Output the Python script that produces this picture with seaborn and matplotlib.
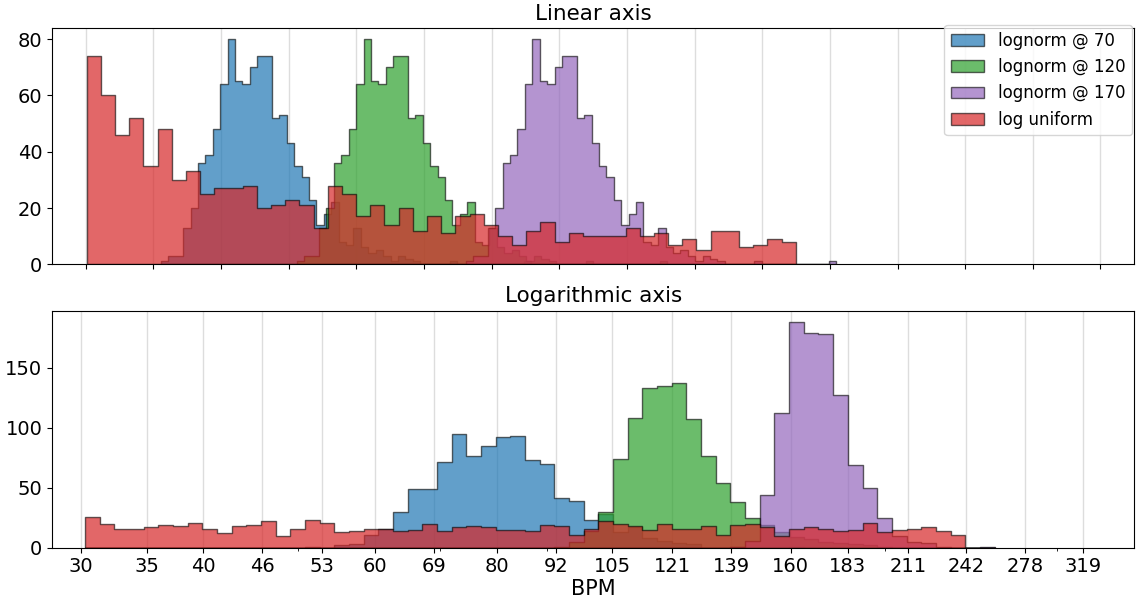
import numpy as np
import matplotlib
matplotlib.use("Agg")
import matplotlib.pyplot as plt
from matplotlib.colors import to_rgba
from matplotlib.ticker import NullFormatter
import seaborn as sns

series_labels = ["lognorm @ 70", "lognorm @ 120", "lognorm @ 170", "log uniform"]
series_colors = ["tab:blue", "tab:green", "tab:purple", "tab:red"]

# ---- linear-axis histograms (BPM) ----
# the three lognormal series share one histogram shape (50 bins of 2.19 BPM),
# each starting at its own minimum
lin_lognorm_counts = [1, 3, 3, 13, 20, 36, 39, 48, 64, 80,
                      65, 64, 70, 74, 74, 52, 53, 43, 35, 31,
                      23, 14, 18, 22, 8, 7, 13, 6, 4, 5,
                      3, 1, 3, 2, 1, 0, 0, 0, 0, 1,
                      0, 0, 0, 0, 0, 0, 0, 0, 0, 1]
lin_lognorm_mins = [52.2, 92.4, 142.3]
lin_lognorm_binwidth = 2.19

lin_uniform_counts = [74, 60, 46, 52, 35, 48, 30, 33, 25, 27,
                      27, 28, 20, 21, 23, 21, 13, 28, 25, 17,
                      21, 14, 20, 12, 17, 11, 17, 18, 14, 10,
                      7, 12, 15, 8, 11, 10, 10, 10, 13, 10,
                      11, 7, 9, 5, 12, 12, 6, 7, 9, 8]
lin_uniform_range = (30.25, 239.9)

lin_ticks = list(range(30, 331, 20))

# ---- logarithmic-axis histograms: 62 shared geometric bins ----
log_bin_range = (30.26, 258.9)
log_blue = [0] * 15 + [1, 0, 2, 3, 11, 16, 30, 49, 49, 71,
                       95, 76, 85, 92, 93, 73, 70, 41, 39, 23,
                       28, 13, 17, 8, 6, 4, 3, 0, 0, 1,
                       0, 0, 0, 1] + [0] * 13
log_green = [0] * 32 + [1, 5, 14, 30, 74, 108, 133, 135, 137, 107,
                        76, 54, 38, 25, 19, 13, 9, 7, 5, 4,
                        3, 2, 1] + [0] * 7
log_purple = [0] * 44 + [1, 6, 44, 112, 188, 179, 178, 127, 69, 50,
                         25, 10, 5, 4, 1, 0, 0, 1]
log_uniform = [26, 20, 16, 16, 17, 19, 18, 21, 16, 12,
               18, 19, 22, 10, 16, 23, 21, 13, 14, 16,
               16, 14, 15, 20, 14, 17, 18, 17, 15, 15,
               14, 19, 18, 11, 16, 22, 20, 18, 15, 20,
               16, 16, 18, 11, 19, 20, 17, 10, 16, 17,
               16, 14, 15, 21, 13, 15, 16, 17, 14, 11,
               0, 0]

log_tick_values = [30, 35, 40, 46, 53, 60, 69, 80, 92, 105,
                   121, 139, 160, 183, 211, 242, 278, 319]


def draw_hist(ax, edges, counts, color, label, log=False):
    edges = np.asarray(edges, dtype=float)
    counts = np.asarray(counts, dtype=float)
    if log:
        centers = np.sqrt(edges[:-1] * edges[1:])
        bins = np.log10(edges)
    else:
        centers = 0.5 * (edges[:-1] + edges[1:])
        bins = edges
    sns.histplot(x=centers, weights=counts, bins=bins.tolist(), log_scale=log,
                 element="step", color=color, alpha=0.7,
                 edgecolor=to_rgba("black", 0.6), linewidth=1.0,
                 label=label, ax=ax)


fig = plt.figure(figsize=(11.38, 5.99), dpi=100)
ax_lin = fig.add_axes([0.0457, 0.5588, 0.951, 0.3945])
ax_log = fig.add_axes([0.0457, 0.0856, 0.951, 0.3957])

# linear axis
n_lin = len(lin_lognorm_counts)
for lo, color, label in zip(lin_lognorm_mins, series_colors[:3], series_labels[:3]):
    edges = lo + lin_lognorm_binwidth * np.arange(n_lin + 1)
    draw_hist(ax_lin, edges, lin_lognorm_counts, color, label)
uni_edges = np.linspace(*lin_uniform_range, len(lin_uniform_counts) + 1)
draw_hist(ax_lin, uni_edges, lin_uniform_counts, series_colors[3], series_labels[3])

ax_lin.set_xlim(20, 340)
ax_lin.set_xticks(lin_ticks)
ax_lin.tick_params(labelbottom=False)
ax_lin.set_yticks([0, 20, 40, 60, 80])
ax_lin.set_title("Linear axis", fontsize=15.5)
ax_lin.legend(loc="upper right", fontsize=12, borderaxespad=0.0,
              bbox_to_anchor=(0.998, 1.012))

# logarithmic axis
log_edges = np.geomspace(*log_bin_range, len(log_uniform) + 1)
for counts, color, label in zip([log_blue, log_green, log_purple, log_uniform],
                                series_colors, series_labels):
    draw_hist(ax_log, log_edges, counts, color, label, log=True)

ax_log.set_xlim(28, 360)
ax_log.set_xticks(log_tick_values)
ax_log.set_xticklabels([str(v) for v in log_tick_values])
ax_log.xaxis.set_minor_formatter(NullFormatter())
ax_log.set_yticks([0, 50, 100, 150])
ax_log.set_title("Logarithmic axis", fontsize=15.5)
ax_log.set_xlabel("BPM", fontsize=15, labelpad=2)

for ax in (ax_lin, ax_log):
    ax.set_ylabel("")
    ax.grid(axis="x", color="#dddddd", linewidth=1.0)
    ax.set_axisbelow(True)
    ax.tick_params(labelsize=14)

fig.savefig("out.png", dpi=100)
